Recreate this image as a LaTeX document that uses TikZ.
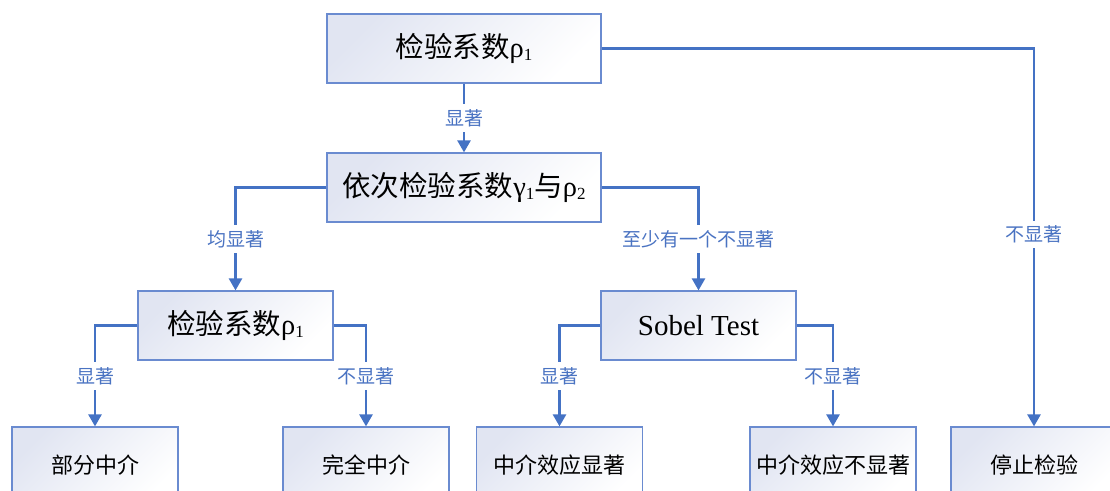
\documentclass[tikz,border=0pt]{standalone}
\usepackage{fontspec}
\setmainfont{Noto Sans CJK SC}
\newfontfamily\ser{Liberation Serif}
\usetikzlibrary{arrows.meta}
\definecolor{lc}{HTML}{4472C4}
\definecolor{bc}{HTML}{6A8BD0}
\definecolor{sh}{HTML}{E1E5F2}
\definecolor{tc}{HTML}{4A73C2}
\newcommand\subn[1]{\raisebox{-0.12em}{\fontsize{17}{17}\selectfont #1}}
\begin{document}
\begin{tikzpicture}[x=1pt,y=-1pt,
 box/.style={draw=bc, line width=1.2pt, top color=sh, bottom color=white, shading angle=45, inner sep=0pt, text=black},
 big/.style={box, minimum width=274pt, minimum height=69pt, font=\fontsize{28.5}{32}\selectfont},
 mid/.style={box, minimum width=195pt, minimum height=69pt, font=\fontsize{28.5}{32}\selectfont},
 leaf/.style={box, minimum width=166pt, minimum height=76pt, font=\fontsize{22}{26}\selectfont},
 conn/.style={draw=lc, line width=2.5pt, -{Triangle[width=13pt,length=12pt]}},
 lab/.style={fill=white, text=tc, font=\fontsize{19}{20}\selectfont, inner sep=5pt}]
\useasboundingbox (0,0) rectangle (1110,490);
\clip (0,0) rectangle (1110,490);
\node[big] (t) at (464,48.5) {检验系数{\ser ρ\subn{1}}};
\node[big] (s) at (464,187.5) {依次检验系数{\ser γ\subn{1}}与{\ser ρ\subn{2}}};
\node[mid] (p) at (235.5,325.5) {检验系数{\ser ρ\subn{1}}};
\node[mid] (sb) at (698.5,325.5) {{\ser\fontsize{29}{32}\selectfont Sobel Test}};
\node[leaf] (l1) at (95,465) {部分中介};
\node[leaf] (l2) at (366,465) {完全中介};
\node[leaf] (l3) at (559.5,465) {中介效应显著};
\node[leaf] (l4) at (833,465) {中介效应不显著};
\node[leaf] (l5) at (1034,465) {停止检验};
\draw[conn] (t) -- node[lab]{显著} (s);
\draw[conn] (t.east) -| node[lab, pos=0.746]{不显著} (l5.north);
\draw[conn] (s.west) -| node[lab, pos=0.75]{均显著} (p.north);
\draw[conn] (s.east) -| node[lab, pos=0.75]{至少有一个不显著} (sb.north);
\draw[conn] (p.west) -| node[lab, pos=0.75]{显著} (l1.north);
\draw[conn] (p.east) -| node[lab, pos=0.75]{不显著} (l2.north);
\draw[conn] (sb.west) -| node[lab, pos=0.75]{显著} (l3.north);
\draw[conn] (sb.east) -| node[lab, pos=0.75]{不显著} (l4.north);
\end{tikzpicture}
\end{document}
